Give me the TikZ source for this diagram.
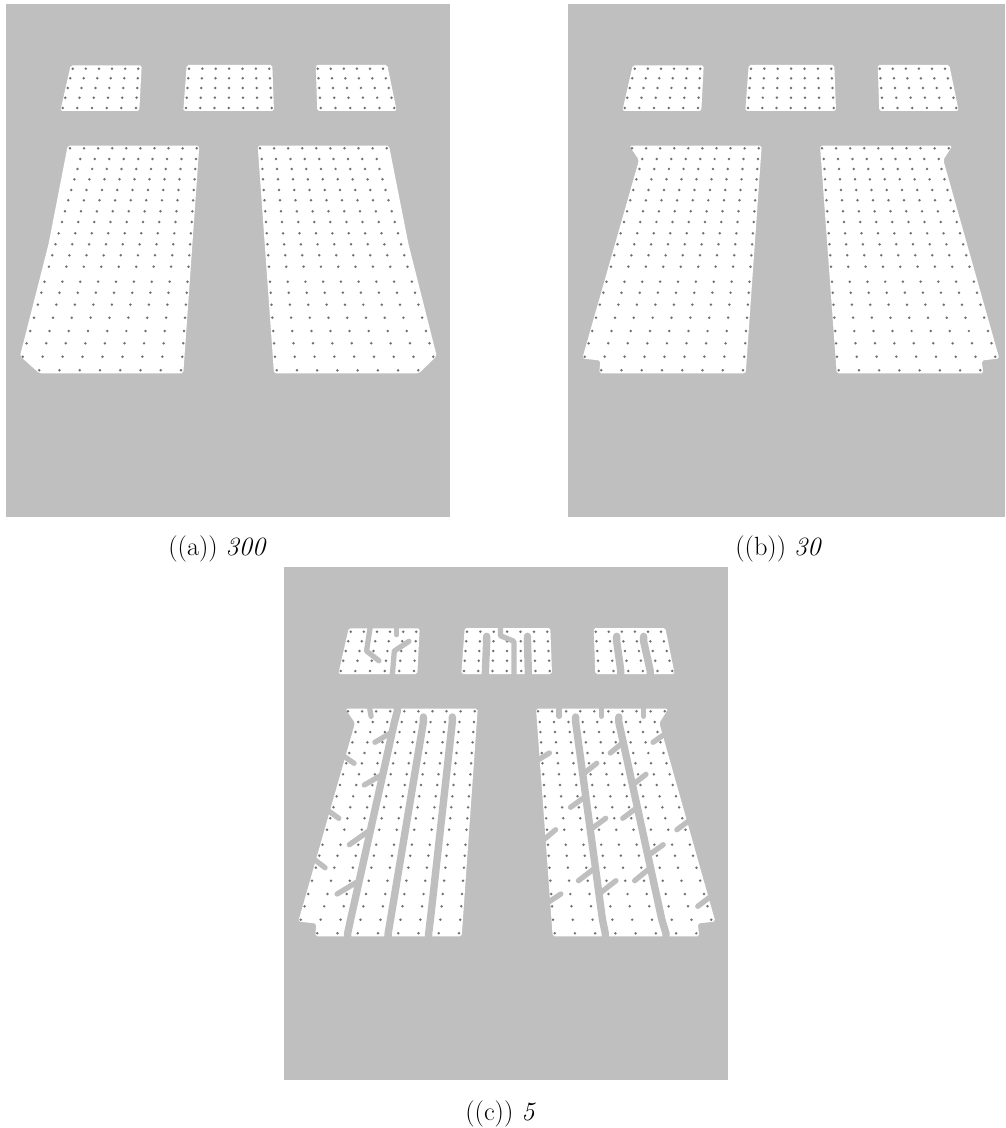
\documentclass[tikz,border=0pt]{standalone}
\usepackage{fontspec}
\usepackage{tikz}
\usetikzlibrary{calc}

\definecolor{panelgrey}{RGB}{191,191,191}
\definecolor{dotgrey}{RGB}{112,112,112}

% dots of a small pad: name, count, row-1 left/right, row-5 left/right
\newcommand{\padmesh}[6]{%
  \foreach \r/\y in {1/64.7,2/74.3,3/84,4/93.7,5/104}{%
    \pgfmathsetmacro\xa{#3+(#5-#3)*(\r-1)/4}%
    \pgfmathsetmacro\xb{#4+(#6-#4)*(\r-1)/4}%
    \foreach \k in {1,...,#2}{%
      \pgfmathsetmacro\xx{\xa+(\xb-\xa)*(\k-1)/(#2-1)}%
      \pgfmathtruncatemacro\i{\k-1}%
      \coordinate (#1-\r-\i) at (\xx,\y);
      \fill[dotfill] (\xx,\y) circle (0.78pt);
    }%
  }%
}

% dots of a wing: name, then left/right of rows 1, 2, 19 and 20
\newcommand{\wingmesh}[9]{%
  \foreach \r/\y in {1/144.3,2/155,3/165,4/175.3,5/186,6/196.3,7/207.3,8/218,9/229.3,10/240.3,11/251.3,12/262.7,13/277.7,14/288.7,15/300.7,16/313.7,17/327,18/339.3,19/352.7,20/366.3}{%
    \ifnum\r=1\relax
      \def\xa{#2}\def\xb{#3}\def\nd{10}%
    \else\ifnum\r=20\relax
      \def\xa{#8}\def\xb{#9}\def\nd{8}%
    \else
      \pgfmathsetmacro\xa{#4+(#6-#4)*(\y-155)/197.7}%
      \pgfmathsetmacro\xb{#5+(#7-#5)*(\y-155)/197.7}%
      \def\nd{9}%
    \fi\fi
    \foreach \k in {1,...,\nd}{%
      \pgfmathsetmacro\xx{\xa+(\xb-\xa)*(\k-1)/(\nd-1)}%
      \pgfmathtruncatemacro\i{\k-1}%
      \pgfmathtruncatemacro\j{\nd-\k}%
      \coordinate (#1-\r-\i) at (\xx,\y);
      \coordinate (#1-\r-R\j) at (\xx,\y);
      \fill[dotfill] (\xx,\y) circle (0.78pt);
    }%
  }%
}

% all dots of one panel
\newcommand{\allmesh}[1]{%
  \padmesh{#1-padL}{6}{66.7}{132.3}{56.7}{130}
  \padmesh{#1-padM}{7}{183}{263.3}{180}{265.7}
  \padmesh{#1-padR}{6}{311.7}{377}{314.7}{388.3}
  \wingmesh{#1-wingL}{64}{190.7}{74.3}{190}{16.7}{176.3}{33.3}{175}
  \wingmesh{#1-wingR}{254}{380.7}{255.7}{370.7}{269}{427.3}{270.7}{412.3}
}

% grey slot between two dot columns: mesh, column, column, first row, last row
\newcommand{\stripcut}[5]{%
  \draw[stripline] ($(#1-#4-#2)!.5!(#1-#4-#3)+(0,-5)$)
    \foreach \r in {#4,...,#5}{ -- ($(#1-\r-#2)!.5!(#1-\r-#3)$) }
    -- ($(#1-#5-#2)!.5!(#1-#5-#3)+(0,8)$);
}

\newcommand{\padshapes}{%
  \fill[padfill] (64.7,61.3) -- (135.7,61.3) -- (133.3,107) -- (54.3,107) -- cycle;
  \fill[padfill] (180.7,61) -- (266.3,61) -- (268,107) -- (177.3,107) -- cycle;
  \fill[padfill] (309.7,61) -- (381.3,61) -- (390.7,107) -- (311.3,107) -- cycle;
}
\newcommand{\wingsA}{%
  \fill[padfill] (61.7,141.7) -- (193.3,141.7) -- (177.3,369.3) -- (33.3,369.3)
    -- (14,352) -- (42.5,240.3) -- cycle;
  \fill[padfill] (251.7,141.7) -- (383,141.7) -- (402.5,240.3) -- (430.7,352)
    -- (413,369.3) -- (268,369.3) -- cycle;
}
\newcommand{\wingsB}{%
  \fill[padfill] (61.3,141.7) -- (193.7,141.7) -- (177.7,369.3) -- (31.3,369.3)
    -- (32.3,356.5) -- (14.3,354.5) -- (71,156) -- cycle;
  \fill[padfill] (252,141.7) -- (384.3,141.7) -- (375.3,156) -- (431.3,354.5)
    -- (413.7,356.5) -- (415.3,369.3) -- (268.7,369.3) -- cycle;
}

\begin{document}
\begin{tikzpicture}[
        x=0.02cm, y=-0.02cm,
        panelfill/.style={fill=panelgrey},
        padfill/.style={fill=white, rounded corners=1pt},
        dotfill/.style={fill=dotgrey},
        cutline/.style={draw=panelgrey, line width=3pt, line cap=round, line join=round},
        stripline/.style={cutline, line width=4.2pt},
        subcap/.style={font=\fontsize{15}{18}\selectfont, anchor=base west, inner sep=0pt}
    ]
    \useasboundingbox (0,0) rectangle (1005,1128);

    % (a) 300
    \begin{scope}[shift={(6,4)}]
        \fill[panelfill] (0,0) rectangle (444,513);
        \padshapes
        \wingsA
        \allmesh{a}
    \end{scope}

    % (b) 30
    \begin{scope}[shift={(568,4)}]
        \fill[panelfill] (0,0) rectangle (437,513);
        \padshapes
        \wingsB
        \allmesh{b}
    \end{scope}

    % (c) 5
    \begin{scope}[shift={(284,567)}]
        \fill[panelfill] (0,0) rectangle (444,513);
        \padshapes
        \wingsB
        \allmesh{c}

        % pads
        \draw[cutline] ($(c-padL-1-1)!.5!(c-padL-1-2)+(0,-6)$) -- ($(c-padL-3-1)!.5!(c-padL-3-2)$)
            -- ($(c-padL-4-2)!.5!(c-padL-4-3)$);
        \draw[cutline] ($(c-padL-5-3)!.5!(c-padL-5-4)+(0,8)$) -- ($(c-padL-3-3)!.5!(c-padL-3-4)$)
            -- ($(c-padL-2-4)!.5!(c-padL-2-5)$);
        \draw[cutline] ($(c-padL-1-3)!.5!(c-padL-1-4)+(0,-6)$) -- ($(c-padL-1-3)!.5!(c-padL-1-4)+(0,3)$);
        \stripcut{c-padM}{1}{2}{2}{5}
        \stripcut{c-padM}{4}{5}{2}{5}
        \draw[cutline] ($(c-padM-1-2)!.5!(c-padM-1-3)+(0,-6)$) -- ($(c-padM-1-2)!.5!(c-padM-1-3)+(0,4)$)
            -- ($(c-padM-2-3)!.5!(c-padM-2-4)$) -- ($(c-padM-5-3)!.5!(c-padM-5-4)+(0,8)$);
        \stripcut{c-padR}{1}{2}{2}{5}
        \stripcut{c-padR}{3}{4}{2}{5}

        % left wing
        \stripcut{c-wingL}{R1}{R2}{2}{20}
        \stripcut{c-wingL}{R3}{R4}{2}{20}
        \stripcut{c-wingL}{R5}{R6}{1}{20}
        \foreach \r/\s in {3/4,7/8,12/13,16/17}
            \draw[cutline] ($(c-wingL-\r-R5)!.5!(c-wingL-\r-R6)$) -- ($(c-wingL-\s-R6)!.5!(c-wingL-\s-R7)$);
        \foreach \r/\s in {5/6,10/11,14/15}
            \draw[cutline] ($(c-wingL-\r-R8)+(-10,0)$) -- ($(c-wingL-\s-R7)!.5!(c-wingL-\s-R8)$);
        \draw[cutline] ($(c-wingL-1-R7)!.5!(c-wingL-1-R8)+(0,-6)$) -- ($(c-wingL-1-R7)!.5!(c-wingL-1-R8)+(2,5)$);

        % right wing
        \stripcut{c-wingR}{2}{3}{2}{20}
        \stripcut{c-wingR}{5}{6}{2}{20}
        \foreach \i/\j in {1/2,4/5,7/8}
            \draw[cutline] ($(c-wingR-1-\i)!.5!(c-wingR-1-\j)+(0,-6)$) -- ($(c-wingR-1-\i)!.5!(c-wingR-1-\j)+(0,5)$);
        \foreach \r/\s in {6/5,13/12,18/17}
            \draw[cutline] ($(c-wingR-\r-0)+(-10,0)$) -- ($(c-wingR-\s-0)!.5!(c-wingR-\s-1)$);
        \foreach \r/\s in {9/10,15/16}
            \draw[cutline] ($(c-wingR-\r-2)!.5!(c-wingR-\r-3)$) -- ($(c-wingR-\s-1)!.5!(c-wingR-\s-2)$);
        \foreach \r/\s in {7/6,12/11,17/16}
            \draw[cutline] ($(c-wingR-\r-2)!.5!(c-wingR-\r-3)$) -- ($(c-wingR-\s-3)!.5!(c-wingR-\s-4)$);
        \foreach \r/\s in {4/5,10/11,15/16}
            \draw[cutline] ($(c-wingR-\r-5)!.5!(c-wingR-\r-6)$) -- ($(c-wingR-\s-4)!.5!(c-wingR-\s-5)$);
        \foreach \r/\s in {8/7,14/13}
            \draw[cutline] ($(c-wingR-\r-5)!.5!(c-wingR-\r-6)$) -- ($(c-wingR-\s-6)!.5!(c-wingR-\s-7)$);
        \foreach \r/\s in {3/4,11/12,17/18}
            \draw[cutline] ($(c-wingR-\r-8)+(10,0)$) -- ($(c-wingR-\s-7)!.5!(c-wingR-\s-8)$);
    \end{scope}

    \node[subcap] (capa) at (168,555) {((a)) \textit{300}};
    \node[subcap] (capb) at (735,555) {((b)) \textit{30}};
    \node[subcap] (capc) at (465,1120) {((c)) \textit{5}};

\end{tikzpicture}
\end{document}
